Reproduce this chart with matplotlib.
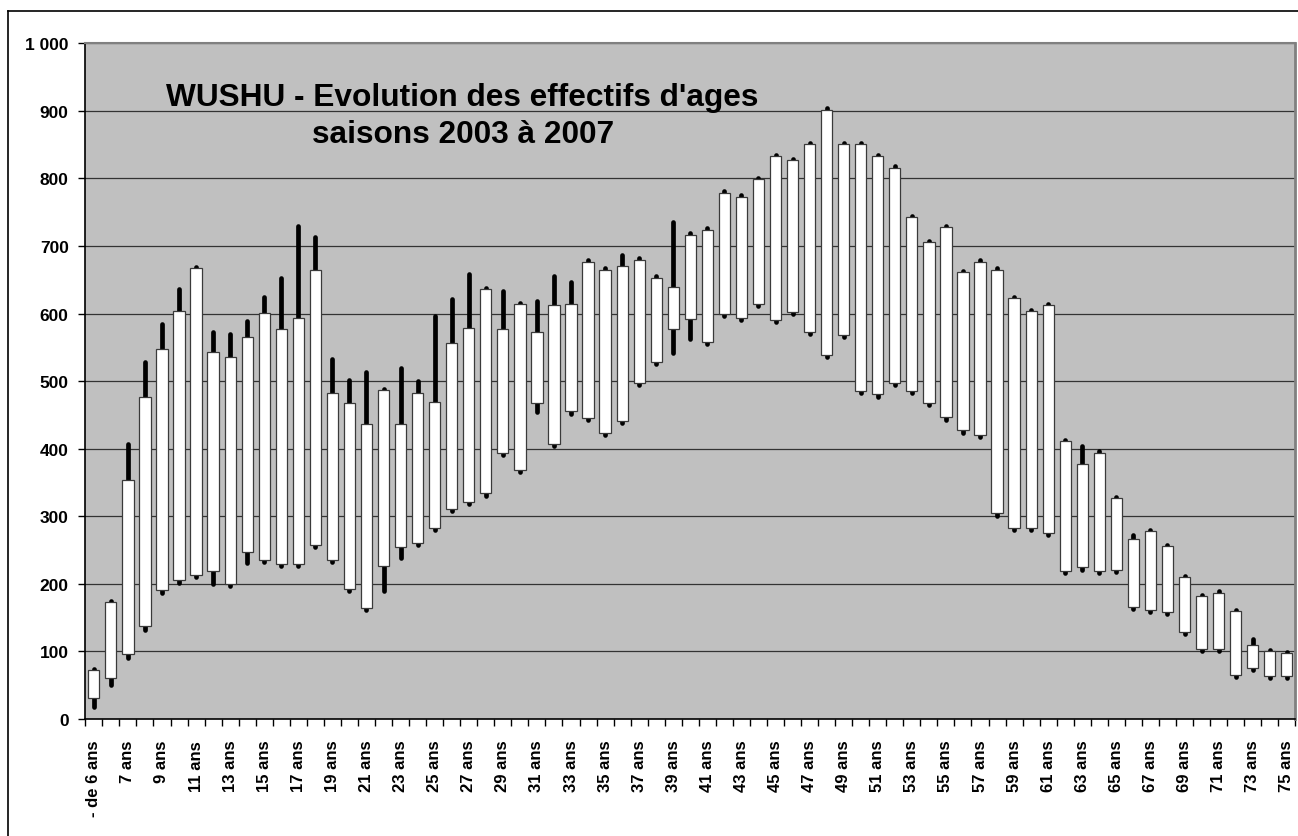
import matplotlib
matplotlib.use("Agg")
import matplotlib.pyplot as plt
from matplotlib.lines import Line2D

# ---------------- data ----------------
categories = ["- de 6 ans"] + [f"{a} ans" for a in range(6, 76)]

box_top = [72, 173, 353, 477, 548, 604, 667, 543, 536, 565,
           601, 577, 594, 665, 482, 467, 436, 487, 436, 482,
           469, 557, 579, 637, 577, 614, 572, 612, 614, 677,
           665, 670, 680, 653, 640, 717, 724, 779, 773, 799,
           833, 827, 851, 902, 851, 851, 833, 816, 743, 706,
           728, 661, 677, 665, 623, 604, 612, 411, 378, 394,
           327, 266, 278, 256, 210, 182, 187, 160, 109, 100,
           97]
box_bottom = [31, 61, 96, 137, 191, 205, 213, 219, 200, 247,
              236, 229, 229, 258, 236, 192, 165, 227, 254, 260,
              282, 311, 321, 334, 394, 368, 468, 407, 456, 446,
              424, 441, 498, 529, 577, 592, 558, 599, 594, 614,
              590, 602, 573, 538, 568, 485, 481, 498, 485, 468,
              447, 428, 420, 305, 283, 283, 275, 219, 225, 219,
              221, 166, 161, 158, 129, 104, 104, 65, 75, 64,
              64]
high = [74, 175, 407, 528, 585, 637, 669, 572, 570, 589,
        624, 652, 730, 713, 533, 501, 513, 488, 519, 500,
        597, 621, 658, 638, 633, 615, 618, 655, 646, 679,
        667, 687, 682, 655, 736, 719, 726, 781, 775, 801,
        835, 829, 853, 904, 853, 853, 835, 818, 745, 708,
        730, 663, 679, 667, 625, 606, 614, 413, 404, 396,
        329, 272, 280, 258, 212, 184, 189, 162, 119, 102,
        99]
low = [18, 51, 91, 132, 187, 202, 210, 200, 197, 231,
       232, 226, 226, 255, 233, 190, 162, 189, 239, 257,
       279, 308, 318, 330, 391, 365, 454, 404, 451, 443,
       421, 438, 494, 525, 541, 563, 555, 596, 591, 611,
       587, 599, 570, 536, 565, 482, 477, 494, 482, 465,
       443, 424, 417, 301, 280, 280, 272, 216, 221, 216,
       218, 163, 158, 155, 126, 101, 101, 62, 72, 61,
       61]

y_ticks = [0, 100, 200, 300, 400, 500, 600, 700, 800, 900, 1000]
y_tick_labels = ["0", "100", "200", "300", "400", "500", "600", "700", "800", "900", "1 000"]
title_lines = ["WUSHU - Evolution des effectifs d'ages", "saisons 2003 à 2007"]

# ---------------- figure ----------------
plt.rcParams['font.family'] = ['Liberation Sans', 'DejaVu Sans']
W, H = 1298, 837
fig = plt.figure(figsize=(W / 100, H / 100), dpi=100)

# chart-area border (top and left visible)
fig.add_artist(Line2D([8 / W, 1.0], [1 - 12 / H, 1 - 12 / H], transform=fig.transFigure,
                      color='black', lw=1.2))
fig.add_artist(Line2D([8 / W, 8 / W], [0, 1 - 12 / H], transform=fig.transFigure,
                      color='black', lw=1.2))

left, right, top, bottom = 85.3, 1295.3, 44.3, 720
ax = fig.add_axes([left / W, 1 - bottom / H, (right - left) / W, (bottom - top) / H])
ax.set_facecolor('#C0C0C0')

n = len(categories)
x = list(range(n))
ax.set_xlim(-0.5, n - 0.5)
ax.set_ylim(0, 1000)

# gridlines
for v in y_ticks[1:]:
    ax.axhline(v, color='#333333', lw=0.9, zorder=1)

# high-low wicks
for i in x:
    ax.plot([i, i], [low[i], high[i]], color='black', lw=3.4,
            solid_capstyle='round', zorder=2)

# boxes
heights = [t - b for t, b in zip(box_top, box_bottom)]
ax.bar(x, heights, bottom=box_bottom, width=0.66, color='white',
       edgecolor='#3a3a3a', linewidth=0.9, zorder=3)

# axes styling
ax.spines['left'].set_color('black')
ax.spines['bottom'].set_color('black')
ax.spines['left'].set_linewidth(1.2)
ax.spines['bottom'].set_linewidth(1.2)
ax.spines['right'].set_color('#808080')
ax.spines['top'].set_color('#808080')
ax.spines['right'].set_linewidth(2)
ax.spines['top'].set_linewidth(1.5)

ax.set_yticks(y_ticks)
ax.set_yticklabels(y_tick_labels, fontsize=12.5, fontweight='bold')
ax.tick_params(axis='y', direction='out', length=5, width=1, pad=7)

ax.set_xticks([i - 0.5 for i in range(n + 1)])
ax.set_xticklabels([])
ax.tick_params(axis='x', which='major', direction='out', length=5, width=1)
ax.set_xticks(x[::2], minor=True)
ax.set_xticklabels(categories[::2], minor=True, rotation=90, fontsize=12,
                   fontweight='bold', va='top', ha='center')
ax.tick_params(axis='x', which='minor', length=0, pad=15)

# title inside plot
ax.text(462 / W, 1 - 106 / H, title_lines[0], transform=fig.transFigure,
        fontsize=22.8, fontweight='bold', ha='center', va='baseline', zorder=5)
ax.text(463 / W, 1 - 143 / H, title_lines[1], transform=fig.transFigure,
        fontsize=22.8, fontweight='bold', ha='center', va='baseline', zorder=5)

fig.savefig("out.png", dpi=100)
